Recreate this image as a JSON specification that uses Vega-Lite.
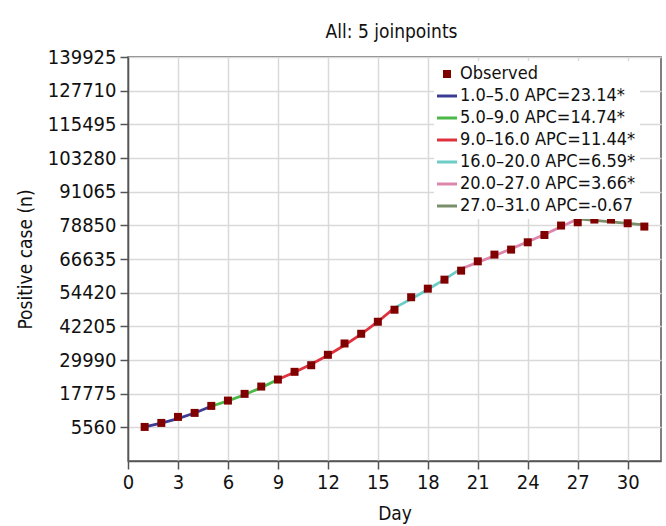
{
  "$schema": "https://vega.github.io/schema/vega-lite/v6.json",
  "autosize": {"type": "none"},
  "width": 533,
  "height": 404,
  "padding": {"left": 128, "top": 57, "right": 5, "bottom": 65},
  "background": "white",
  "title": {"text": "All: 5 joinpoints", "font": "DejaVu Sans Condensed, DejaVu Sans", "fontSize": 19, "fontWeight": "normal", "color": "#111", "anchor": "middle", "offset": 5, "dx": -3},
  "config": {
    "view": {"stroke": "#555", "strokeWidth": 1.5},
    "font": "DejaVu Sans Condensed, DejaVu Sans"
  },
  "datasets": {
    "obs": [
      {"day": 1, "value": 5705}, {"day": 2, "value": 7160}, {"day": 3, "value": 9340}, {"day": 4, "value": 10795},
      {"day": 5, "value": 13340}, {"day": 6, "value": 15265}, {"day": 7, "value": 17700}, {"day": 8, "value": 20355},
      {"day": 9, "value": 22900}, {"day": 10, "value": 25700}, {"day": 11, "value": 28100}, {"day": 12, "value": 31880},
      {"day": 13, "value": 35985}, {"day": 14, "value": 39510}, {"day": 15, "value": 43870}, {"day": 16, "value": 48235},
      {"day": 17, "value": 52760}, {"day": 18, "value": 55870}, {"day": 19, "value": 59140}, {"day": 20, "value": 62410},
      {"day": 21, "value": 65790}, {"day": 22, "value": 68225}, {"day": 23, "value": 70045}, {"day": 24, "value": 72700},
      {"day": 25, "value": 75350}, {"day": 26, "value": 78770}, {"day": 27, "value": 79970}, {"day": 28, "value": 80950},
      {"day": 29, "value": 80950}, {"day": 30, "value": 79605}, {"day": 31, "value": 78405}
    ],
    "fit": [
      {"day": 1, "value": 5750, "series": "1.0–5.0 APC=23.14*"},
      {"day": 2, "value": 7080, "series": "1.0–5.0 APC=23.14*"},
      {"day": 3, "value": 8720, "series": "1.0–5.0 APC=23.14*"},
      {"day": 4, "value": 10740, "series": "1.0–5.0 APC=23.14*"},
      {"day": 5, "value": 13220, "series": "1.0–5.0 APC=23.14*"},
      {"day": 5, "value": 13220, "series": "5.0–9.0 APC=14.74*"},
      {"day": 6, "value": 15170, "series": "5.0–9.0 APC=14.74*"},
      {"day": 7, "value": 17400, "series": "5.0–9.0 APC=14.74*"},
      {"day": 8, "value": 19970, "series": "5.0–9.0 APC=14.74*"},
      {"day": 9, "value": 22910, "series": "5.0–9.0 APC=14.74*"},
      {"day": 9, "value": 22910, "series": "9.0–16.0 APC=11.44*"},
      {"day": 10, "value": 25530, "series": "9.0–16.0 APC=11.44*"},
      {"day": 11, "value": 28450, "series": "9.0–16.0 APC=11.44*"},
      {"day": 12, "value": 31710, "series": "9.0–16.0 APC=11.44*"},
      {"day": 13, "value": 35330, "series": "9.0–16.0 APC=11.44*"},
      {"day": 14, "value": 39380, "series": "9.0–16.0 APC=11.44*"},
      {"day": 15, "value": 43880, "series": "9.0–16.0 APC=11.44*"},
      {"day": 16, "value": 48900, "series": "9.0–16.0 APC=11.44*"},
      {"day": 16, "value": 48900, "series": "16.0–20.0 APC=6.59*"},
      {"day": 17, "value": 52120, "series": "16.0–20.0 APC=6.59*"},
      {"day": 18, "value": 55560, "series": "16.0–20.0 APC=6.59*"},
      {"day": 19, "value": 59220, "series": "16.0–20.0 APC=6.59*"},
      {"day": 20, "value": 63120, "series": "16.0–20.0 APC=6.59*"},
      {"day": 20, "value": 63120, "series": "20.0–27.0 APC=3.66*"},
      {"day": 21, "value": 65430, "series": "20.0–27.0 APC=3.66*"},
      {"day": 22, "value": 67820, "series": "20.0–27.0 APC=3.66*"},
      {"day": 23, "value": 70300, "series": "20.0–27.0 APC=3.66*"},
      {"day": 24, "value": 72880, "series": "20.0–27.0 APC=3.66*"},
      {"day": 25, "value": 75540, "series": "20.0–27.0 APC=3.66*"},
      {"day": 26, "value": 78310, "series": "20.0–27.0 APC=3.66*"},
      {"day": 27, "value": 81170, "series": "20.0–27.0 APC=3.66*"},
      {"day": 27, "value": 81170, "series": "27.0–31.0 APC=-0.67"},
      {"day": 28, "value": 80630, "series": "27.0–31.0 APC=-0.67"},
      {"day": 29, "value": 80090, "series": "27.0–31.0 APC=-0.67"},
      {"day": 30, "value": 79550, "series": "27.0–31.0 APC=-0.67"},
      {"day": 31, "value": 79020, "series": "27.0–31.0 APC=-0.67"}
    ]
  },
  "encoding": {
    "x": {
      "field": "day", "type": "quantitative",
      "scale": {"domain": [0, 32], "nice": false, "zero": false},
      "axis": {
        "title": "Day", "values": [0, 3, 6, 9, 12, 15, 18, 21, 24, 27, 30],
        "grid": true, "gridColor": "#d9d9d9", "gridWidth": 1.5,
        "domainColor": "#555", "domainWidth": 1.5, "tickColor": "#555", "tickWidth": 1.5, "tickSize": 8,
        "labelFontSize": 20, "labelColor": "#111", "labelPadding": 3, "labelFlush": false,
        "titleFontSize": 19, "titleFontWeight": "normal", "titleColor": "#111", "titlePadding": 12
      }
    },
    "y": {
      "field": "value", "type": "quantitative",
      "scale": {"domain": [-6655, 139925], "nice": false, "zero": false},
      "axis": {
        "title": "Positive case (n)",
        "values": [5560, 17775, 29990, 42205, 54420, 66635, 78850, 91065, 103280, 115495, 127710, 139925],
        "format": "d",
        "grid": true, "gridColor": "#d9d9d9", "gridWidth": 1.5,
        "domainColor": "#555", "domainWidth": 1.5, "tickColor": "#555", "tickWidth": 1.5, "tickSize": 8,
        "labelFontSize": 20, "labelColor": "#111", "labelPadding": 4, "labelFlush": false,
        "titleFontSize": 19, "titleFontWeight": "normal", "titleColor": "#111", "titlePadding": 12
      }
    },
    "color": {
      "field": "series", "type": "nominal",
      "scale": {
        "domain": ["Observed", "1.0–5.0 APC=23.14*", "5.0–9.0 APC=14.74*", "9.0–16.0 APC=11.44*", "16.0–20.0 APC=6.59*", "20.0–27.0 APC=3.66*", "27.0–31.0 APC=-0.67"],
        "range": ["#800000", "#3c3c96", "#4bb847", "#e0323c", "#6ccdc8", "#dc86ac", "#7b8e6a"]
      },
      "legend": {
        "title": null, "orient": "none", "legendX": 306, "legendY": 4,
        "fillColor": "white", "padding": 4, "labelFontSize": 18, "labelColor": "#111",
        "labelLimit": 300, "symbolSize": 400, "symbolStrokeWidth": 3, "rowPadding": 4, "labelOffset": 4,
        "encode": {
          "symbols": {
            "update": {
              "shape": {"signal": "datum.value === 'Observed' ? 'square' : 'stroke'"},
              "size": {"signal": "datum.value === 'Observed' ? 64 : 400"},
              "fill": {"scale": "color", "field": "value"},
              "stroke": {"scale": "color", "field": "value"},
              "strokeWidth": {"signal": "datum.value === 'Observed' ? 0 : 3"},
              "opacity": {"value": 1}
            }
          }
        }
      }
    }
  },
  "layer": [
    {
      "data": {"name": "fit"},
      "mark": {"type": "line", "strokeWidth": 2.8},
      "encoding": {"detail": {"field": "series"}}
    },
    {
      "data": {"name": "obs"},
      "transform": [{"calculate": "'Observed'", "as": "series"}],
      "mark": {"type": "point", "shape": "square", "filled": true, "size": 64, "opacity": 1}
    }
  ]
}
